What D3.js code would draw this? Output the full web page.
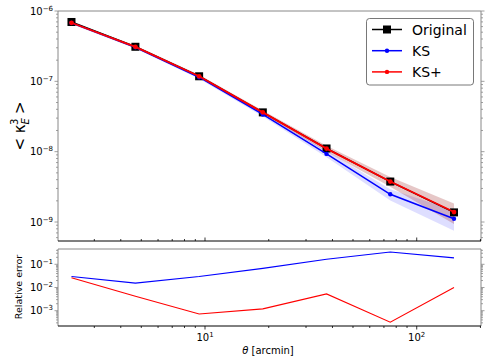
<!DOCTYPE html>
<html><head><meta charset="utf-8">
<script src="https://cdn.jsdelivr.net/npm/d3@7"></script>
<style>body{margin:0;background:#fff}svg{display:block;font-family:"DejaVu Sans",sans-serif}</style>
</head><body><svg id="c" width="491" height="363"></svg>
<script>
const theta = [2.34, 4.69, 9.38, 18.75, 37.5, 75, 150];
const original = [6.98e-7, 3.1e-7, 1.18e-7, 3.62e-8, 1.11e-8, 3.76e-9, 1.37e-9];
const ks = [6.77e-7, 3.05e-7, 1.145e-7, 3.38e-8, 9.3e-9, 2.48e-9, 1.11e-9];
const ksStd = [2.5e-8, 1.3e-8, 6e-9, 2.2e-9, 1.0e-9, 4.5e-10, 3.6e-10];
const ksPlus = [6.8e-7, 3.09e-7, 1.18e-7, 3.62e-8, 1.105e-8, 3.76e-9, 1.385e-9];
const ksPlusStd = [2.5e-8, 1.3e-8, 6e-9, 2.2e-9, 1.1e-9, 6e-10, 4.5e-10];
const relErrKS = [0.030, 0.0155, 0.030, 0.067, 0.164, 0.34, 0.19];
const relErrKSPlus = [0.0264, 0.0042, 0.00072, 0.0012, 0.0053, 0.00032, 0.010];
const legendLabels = ["Original", "KS", "KS+"];
const yTopTicks = [-9, -8, -7, -6];
const yBotTicks = [-3, -2, -1];
const xTicks = [1, 2];

const svg = d3.select("#c");
const L = 58, R = 481, T1 = 11, B1 = 241, T2 = 249, B2 = 326;
const x = d3.scaleLog().domain([2.021, 201.2]).range([L, R]);
const y1 = d3.scaleLog().domain([5.37e-10, 1e-6]).range([B1, T1]);
const y2 = d3.scaleLog().domain([2.19e-4, 0.457]).range([B2, T2]);
const gray = "#888";

function minorVals(lo, hi) {
  const v = [];
  for (let e = Math.floor(Math.log10(lo)) - 1; e <= Math.ceil(Math.log10(hi)); e++)
    for (let m = 2; m <= 9; m++) { const t = m * Math.pow(10, e); if (t >= lo && t <= hi) v.push(t); }
  return v;
}
function powLabel(sel, exp) {
  sel.append("tspan").text("10");
  sel.append("tspan").attr("dy", "-0.55em").attr("font-size", "7px").text(exp < 0 ? "\u2212" + (-exp) : exp);
}

function yAxes(ys, majors) {
  const d = ys.domain();
  const g = svg.append("g");
  minorVals(d[0], d[1]).forEach(v => {
    g.append("line").attr("x1", L - 2).attr("x2", L).attr("y1", ys(v)).attr("y2", ys(v)).attr("stroke", gray).attr("stroke-width", 0.8);
    g.append("line").attr("x1", R).attr("x2", R + 2).attr("y1", ys(v)).attr("y2", ys(v)).attr("stroke", gray).attr("stroke-width", 0.8);
  });
  majors.forEach(e => {
    const v = Math.pow(10, e), yy = ys(v);
    g.append("line").attr("x1", L - 3.5).attr("x2", L).attr("y1", yy).attr("y2", yy).attr("stroke", gray).attr("stroke-width", 0.8);
    g.append("line").attr("x1", R).attr("x2", R + 3.5).attr("y1", yy).attr("y2", yy).attr("stroke", gray).attr("stroke-width", 0.8);
    const t = g.append("text").attr("x", L - 5).attr("y", yy + 3.5).attr("text-anchor", "end").attr("font-size", "10px").attr("fill", "#000");
    powLabel(t, e);
  });
}

function xTicksDraw(yb, dir, labels) {
  const g = svg.append("g");
  const d = x.domain();
  minorVals(d[0], d[1]).forEach(v => {
    g.append("line").attr("x1", x(v)).attr("x2", x(v)).attr("y1", yb).attr("y2", yb + dir * 2).attr("stroke", "#000").attr("stroke-width", 0.8);
  });
  xTicks.forEach(e => {
    const xx = x(Math.pow(10, e));
    g.append("line").attr("x1", xx).attr("x2", xx).attr("y1", yb).attr("y2", yb + dir * 3.5).attr("stroke", "#000").attr("stroke-width", 0.8);
    if (labels) {
      const t = g.append("text").attr("x", xx).attr("y", yb + 15).attr("text-anchor", "middle").attr("font-size", "10px");
      powLabel(t, e);
    }
  });
}

function frame(t, b) {
  svg.append("line").attr("x1", L).attr("x2", R).attr("y1", t).attr("y2", t).attr("stroke", gray).attr("stroke-width", 1);
  svg.append("line").attr("x1", L).attr("x2", L).attr("y1", t).attr("y2", b).attr("stroke", gray).attr("stroke-width", 1);
  svg.append("line").attr("x1", R).attr("x2", R).attr("y1", t).attr("y2", b).attr("stroke", gray).attr("stroke-width", 1);
  svg.append("line").attr("x1", L).attr("x2", R).attr("y1", b).attr("y2", b).attr("stroke", "#000").attr("stroke-width", 1);
}

// ---- top panel ----
svg.append("clipPath").attr("id", "cp1").append("rect").attr("x", L).attr("y", T1).attr("width", R - L).attr("height", B1 - T1);
const p1 = svg.append("g").attr("clip-path", "url(#cp1)");
const area = (vals, sd) => d3.area().x((d, i) => x(theta[i])).y0((d, i) => y1(vals[i] - sd[i])).y1((d, i) => y1(vals[i] + sd[i]))(vals);
p1.append("path").attr("d", area(ks, ksStd)).attr("fill", "rgba(0,0,255,0.13)");
p1.append("path").attr("d", area(ksPlus, ksPlusStd)).attr("fill", "rgba(139,0,0,0.22)");
const line1 = vals => d3.line().x((d, i) => x(theta[i])).y(d => y1(d))(vals);
p1.append("path").attr("d", line1(original)).attr("fill", "none").attr("stroke", "#000").attr("stroke-width", 1.5);
original.forEach((v, i) => p1.append("rect").attr("x", x(theta[i]) - 4).attr("y", y1(v) - 4).attr("width", 8).attr("height", 8).attr("fill", "#000"));
p1.append("path").attr("d", line1(ks)).attr("fill", "none").attr("stroke", "#0000ff").attr("stroke-width", 1.5);
ks.forEach((v, i) => p1.append("circle").attr("cx", x(theta[i])).attr("cy", y1(v)).attr("r", 2.2).attr("fill", "#0000ff"));
p1.append("path").attr("d", line1(ksPlus)).attr("fill", "none").attr("stroke", "#ff0000").attr("stroke-width", 1.8);
ksPlus.forEach((v, i) => p1.append("circle").attr("cx", x(theta[i])).attr("cy", y1(v)).attr("r", 2.4).attr("fill", "#ff0000"));
frame(T1, B1);
yAxes(y1, yTopTicks);
xTicksDraw(B1, -1, false);

// legend
const lg = svg.append("g");
lg.append("rect").attr("x", 366.5).attr("y", 18.5).attr("width", 107).attr("height", 66.5).attr("rx", 3).attr("fill", "#fff").attr("stroke", "#555").attr("stroke-width", 0.8);
const lgColors = ["#000", "#0000ff", "#ff0000"];
legendLabels.forEach((lab, i) => {
  const yy = 29.5 + i * 21.2;
  lg.append("line").attr("x1", 372).attr("x2", 402).attr("y1", yy).attr("y2", yy).attr("stroke", lgColors[i]).attr("stroke-width", 1.5);
  if (i === 0) lg.append("rect").attr("x", 383).attr("y", yy - 4).attr("width", 8).attr("height", 8).attr("fill", "#000");
  else lg.append("circle").attr("cx", 387).attr("cy", yy).attr("r", 2.2).attr("fill", lgColors[i]);
  lg.append("text").attr("x", 412).attr("y", yy + 5).attr("font-size", "14px").text(lab);
});

// y label top
const yl = svg.append("text").attr("transform", "translate(25,126) rotate(-90)").attr("text-anchor", "middle").attr("font-size", "15px");
yl.append("tspan").text("< \u03BA");
yl.append("tspan").attr("dy", "3.5").attr("font-size", "10px").attr("font-style", "italic").text("E");
yl.append("tspan").attr("dy", "-11").attr("dx", "-7").attr("font-size", "10px").text("3");
yl.append("tspan").attr("dy", "7.5").text(" >");

// ---- bottom panel ----
svg.append("clipPath").attr("id", "cp2").append("rect").attr("x", L).attr("y", T2).attr("width", R - L).attr("height", B2 - T2);
const p2 = svg.append("g").attr("clip-path", "url(#cp2)");
const line2 = vals => d3.line().x((d, i) => x(theta[i])).y(d => y2(d))(vals);
p2.append("path").attr("d", line2(relErrKS)).attr("fill", "none").attr("stroke", "#0000ff").attr("stroke-width", 1.1);
p2.append("path").attr("d", line2(relErrKSPlus)).attr("fill", "none").attr("stroke", "#ff0000").attr("stroke-width", 1.1);
frame(T2, B2);
yAxes(y2, yBotTicks);
xTicksDraw(B2, 1, true);

svg.append("text").attr("transform", "translate(22,287) rotate(-90)").attr("text-anchor", "middle").attr("font-size", "9.5px").text("Relative error");
const xl = svg.append("text").attr("x", 268).attr("y", 354).attr("text-anchor", "middle").attr("font-size", "10px");
xl.append("tspan").attr("font-style", "italic").text("\u03B8");
xl.append("tspan").text(" [arcmin]");
</script></body></html>
